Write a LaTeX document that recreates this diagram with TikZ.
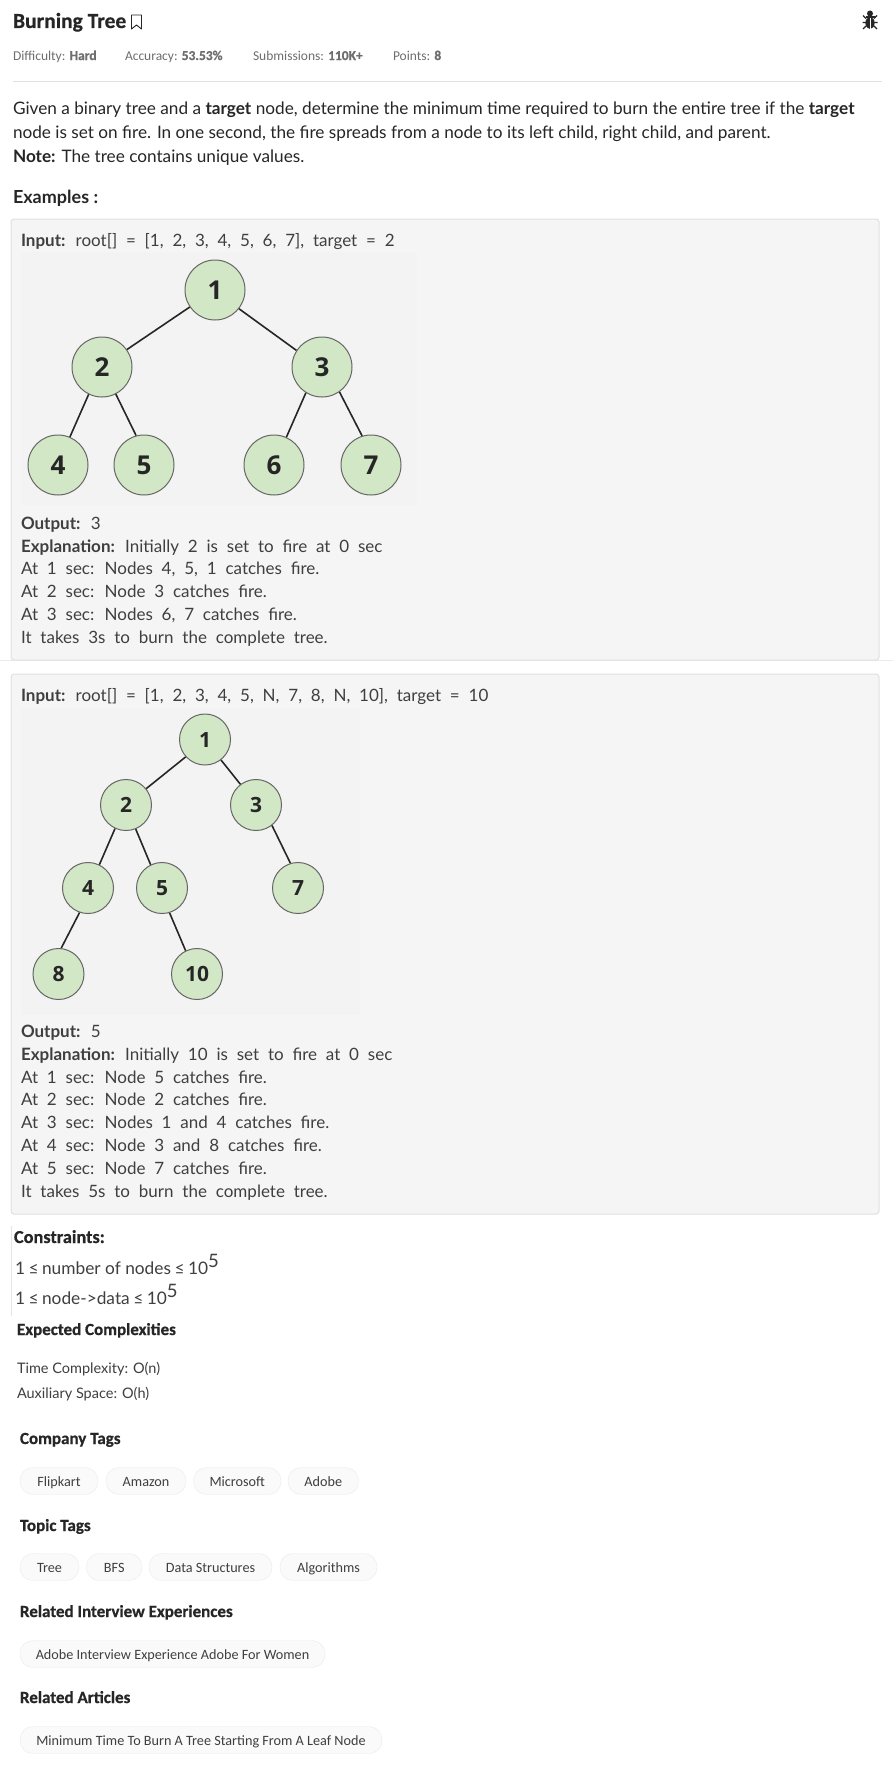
\documentclass[tikz,border=0pt]{standalone}
\usepackage{fontspec}
\setmainfont{Lato}
\newfontfamily\headf{Open Sans}
\newfontfamily\carl{Carlito}[BoldFeatures={FakeBold=0.6}]
\newcommand{\wide}{\spaceskip=.52em\relax}
\definecolor{ink}{HTML}{262626}
\definecolor{soft}{HTML}{3F3F3F}
\definecolor{grey}{HTML}{6E6E6E}
\definecolor{leaf}{HTML}{D2E7C6}
\definecolor{panelbg}{HTML}{F5F5F5}
\definecolor{imgbg}{HTML}{F3F3F3}
\begin{document}
\begin{tikzpicture}[x=1pt,y=-1pt,
  panel/.style={draw=black!12,line width=1pt,fill=panelbg,rounded corners=3pt},
  lbl/.style={anchor=base west,inner sep=0pt,outer sep=0pt,text=ink},
  body/.style={lbl,text=soft,font=\fontsize{17}{17}\selectfont\wide},
  para/.style={lbl,font=\fontsize{17.2}{17.2}\selectfont},
  hdr/.style={lbl,font=\carl\fontsize{17}{17}\selectfont\bfseries},
  meta/.style={lbl,text=grey,font=\carl\fontsize{13.5}{13.5}\selectfont},
  tn/.style={circle,draw=black!60,line width=1pt,fill=leaf,minimum size=60pt,inner sep=0pt,text=ink,font=\headf\fontsize{26}{26}\selectfont\bfseries},
  tm/.style={circle,draw=black!60,line width=1pt,fill=leaf,minimum size=51pt,inner sep=0pt,text=ink,font=\headf\fontsize{21}{21}\selectfont\bfseries},
  edgeline/.style={draw=ink,line width=1.6pt},
  pill/.style={draw=black!8,fill=black!2,rounded corners=13pt,inner sep=0pt}]
\useasboundingbox (0,0) rectangle (893,1777);
\fill[white] (0,0) rectangle (893,1777);
% header
\node[lbl,font=\carl\fontsize{21.5}{21.5}\selectfont\bfseries] (title) at (13,28) {Burning Tree};
\draw[ink,line width=.9pt,line join=round] (131.5,15) -- (141.5,15) -- (141.5,29) -- (136.5,25) -- (131.5,29) -- cycle;
\fill[ink] (870,13.5) circle (3);
\fill[ink] (865.5,16.5) rectangle (874.5,18);
\fill[ink] (870,23) ellipse (4.6 and 6);
\draw[ink,line width=1.2pt] (863,15.5) -- (866,18.5) (877,15.5) -- (874,18.5) (862.5,22.5) -- (877.5,22.5) (863,29) -- (866,26) (877,29) -- (874,26);
\draw[white,line width=.8pt] (870,18) -- (870,30);
\node[meta] (d) at (13,60) {Difficulty: \textbf{Hard}};
\node[meta] (a) at (125,60) {Accuracy: \textbf{53.53\%}};
\node[meta] (s) at (253,60) {Submissions: \textbf{110K+}};
\node[meta] (p) at (393,60) {Points: \textbf{8}};
\draw[black!12,line width=1pt] (13,81) -- (882,81);
\node[para] (g1) at (13,114) {Given a binary tree and a \textbf{target} node, determine the minimum time required to burn the entire tree if the \textbf{target}};
\node[para] (g2) at (13,138) {node is set on fire. In one second, the fire spreads from a node to its left child, right child, and parent.};
\node[para] (g3) at (13,162) {\textbf{Note:} The tree contains unique values.};
\node[para,font=\fontsize{18}{18}\selectfont] (ex) at (13,203) {\textbf{Examples :}};
\draw[black!8,line width=.8pt] (0,660.5) -- (893,660.5);
% panel 1
\draw[panel] (11,219) rectangle (879,660);
\fill[imgbg] (21,252) rectangle (417,505);
\node[body] (i1) at (21,246.5) {\textbf{Input:} root[] = [1, 2, 3, 4, 5, 6, 7], target = 2};
\node[tn] (a1) at (215,290) {1};
\node[tn] (a2) at (102,367) {2};
\node[tn] (a3) at (322,367) {3};
\node[tn] (a4) at (58,465) {4};
\node[tn] (a5) at (144,465) {5};
\node[tn] (a6) at (274,465) {6};
\node[tn] (a7) at (371,465) {7};
\draw[edgeline] (a1.214)--(a2.35);
\draw[edgeline] (a1.-38)--(a3.147);
\draw[edgeline] (a2.-116)--(a4.67);
\draw[edgeline] (a2.-63)--(a5.105);
\draw[edgeline] (a3.-122)--(a6.66);
\draw[edgeline] (a3.-55)--(a7.107);
\node[body] (o1) at (21,529) {\textbf{Output:} 3};
\node[body] (e1) at (21,552) {\textbf{Explanation:} Initially 2 is set to fire at 0 sec};
\node[body] (e2) at (21,574.5) {At 1 sec: Nodes 4, 5, 1 catches fire.};
\node[body] (e3) at (21,597.5) {At 2 sec: Node 3 catches fire.};
\node[body] (e4) at (21,620.5) {At 3 sec: Nodes 6, 7 catches fire.};
\node[body] (e5) at (21,643) {It takes 3s to burn the complete tree.};
% panel 2
\draw[panel] (11,674) rectangle (879,1214);
\fill[imgbg] (21,708) rectangle (360,1015);
\node[body] (i2) at (21,701) {\textbf{Input:} root[] = [1, 2, 3, 4, 5, N, 7, 8, N, 10], target = 10};
\node[tm] (b1) at (205,739.5) {1};
\node[tm] (b2) at (126,805) {2};
\node[tm] (b3) at (256,805) {3};
\node[tm] (b4) at (88,888) {4};
\node[tm] (b5) at (162,888) {5};
\node[tm] (b7) at (298,888) {7};
\node[tm] (b8) at (58.5,974) {8};
\node[tm] (b10) at (197,974) {10};
\draw[edgeline] (b1.222)--(b2.39);
\draw[edgeline] (b1.-52)--(b3.127);
\draw[edgeline] (b2.-115)--(b4.64);
\draw[edgeline] (b2.-68)--(b5.116);
\draw[edgeline] (b3.-52)--(b7.107);
\draw[edgeline] (b4.-109)--(b8.84);
\draw[edgeline] (b5.-73)--(b10.116);
\node[body] (o2) at (21,1037) {\textbf{Output:} 5};
\node[body] (f1) at (21,1060) {\textbf{Explanation:} Initially 10 is set to fire at 0 sec};
\node[body] (f2) at (21,1083) {At 1 sec: Node 5 catches fire.};
\node[body] (f3) at (21,1105.5) {At 2 sec: Node 2 catches fire.};
\node[body] (f4) at (21,1128) {At 3 sec: Nodes 1 and 4 catches fire.};
\node[body] (f5) at (21,1151) {At 4 sec: Node 3 and 8 catches fire.};
\node[body] (f6) at (21,1174) {At 5 sec: Node 7 catches fire.};
\node[body] (f7) at (21,1197) {It takes 5s to burn the complete tree.};
% constraints
\draw[black!10,line width=.7pt] (11.5,1226) -- (11.5,1316);
\node[hdr,font=\carl\fontsize{18.3}{18.3}\selectfont\bfseries] (c0) at (14,1243) {Constraints:};
\node[lbl,text=soft,font=\fontsize{17.3}{17.3}\selectfont] (c1) at (15,1274) {1\hspace{3.5pt}≤\hspace{3.5pt}number of nodes\hspace{3.5pt}≤\hspace{3.5pt}10\raisebox{7pt}{\fontsize{18.5}{18.5}\selectfont 5}};
\node[lbl,text=soft,font=\fontsize{17.3}{17.3}\selectfont] (c2) at (15,1304) {1\hspace{3.5pt}≤\hspace{3.5pt}node->data\hspace{3.5pt}≤\hspace{3.5pt}10\raisebox{7pt}{\fontsize{18.5}{18.5}\selectfont 5}};
\node[hdr] (x0) at (17,1335) {Expected Complexities};
\node[lbl,text=soft,font=\fontsize{14.5}{14.5}\selectfont] (x1) at (17,1373) {Time Complexity: O(n)};
\node[lbl,text=soft,font=\fontsize{14.5}{14.5}\selectfont] (x2) at (17,1398) {Auxiliary Space: O(h)};
\node[hdr] (h1) at (20,1444) {Company Tags};
\node[hdr] (h2) at (20,1531) {Topic Tags};
\node[hdr] (h3) at (20,1617) {Related Interview Experiences};
\node[hdr] (h4) at (20,1703) {Related Articles};
% pills
\newcommand{\tagpill}[5]{%
  \draw[pill] (#1,#3-13.5) rectangle (#2,#3+13.5);
  \node[anchor=base,inner sep=0pt,text=soft,font=\carl\fontsize{14.2}{14.2}\selectfont] (#4) at ({(#1+#2)/2},#3+5) {#5};}
\tagpill{20}{98}{1481}{t1}{Flipkart}
\tagpill{106}{186}{1481}{t2}{Amazon}
\tagpill{193.5}{281}{1481}{t3}{Microsoft}
\tagpill{288}{358.5}{1481}{t4}{Adobe}
\tagpill{20}{79}{1567}{t5}{Tree}
\tagpill{86.5}{142}{1567}{t6}{BFS}
\tagpill{149}{272}{1567}{t7}{Data Structures}
\tagpill{280}{377}{1567}{t8}{Algorithms}
\tagpill{20}{325}{1654}{t9}{Adobe Interview Experience Adobe For Women}
\tagpill{20}{382}{1740}{t10}{Minimum Time To Burn A Tree Starting From A Leaf Node}
\end{tikzpicture}
\end{document}
